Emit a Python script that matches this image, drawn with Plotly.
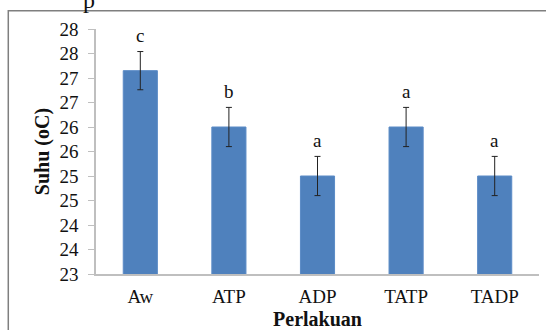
import plotly.graph_objects as go

categories = ["Aw", "ATP", "ADP", "TATP", "TADP"]
values = [27.15, 26.0, 25.0, 26.0, 25.0]
errors = [0.39, 0.4, 0.4, 0.4, 0.4]
letters = ["c", "b", "a", "a", "a"]
tick_vals = [23, 23.5, 24, 24.5, 25, 25.5, 26, 26.5, 27, 27.5, 28]
tick_text = ["23", "24", "24", "25", "25", "26", "26", "27", "27", "28", "28"]

serif = "Liberation Serif"

fig = go.Figure()
fig.add_trace(go.Bar(
    x=categories, y=values,
    marker=dict(color="#4F81BD", line=dict(color="#5B8BC6", width=1)),
    error_y=dict(type="data", array=errors, visible=True, color="#222222",
                 thickness=1, width=3),
))

for c, v, e, l in zip(categories, values, errors, letters):
    fig.add_annotation(x=c, y=v + e, text=l, showarrow=False, yshift=16,
                       font=dict(family=serif, size=19, color="#111"))

# clipped fragment of text above the chart
fig.add_annotation(xref="paper", yref="paper", x=-0.034, y=1.18, text="p",
                   showarrow=False, font=dict(family=serif, size=24, color="#111"))

fig.add_shape(type="rect", xref="paper", yref="paper", x0=-0.198, x1=1.2,
              y0=-0.4, y1=1.075, line=dict(color="#7f7f7f", width=1.5),
              fillcolor="rgba(0,0,0,0)", layer="below")

fig.update_layout(
    width=546, height=330,
    margin=dict(l=96, r=7, t=29, b=56, autoexpand=False),
    plot_bgcolor="white", paper_bgcolor="white",
    bargap=0.615,
    showlegend=False,
    xaxis=dict(showline=True, linecolor="#BFBFBF", linewidth=1.5, automargin=False,
               ticks="", ticklabelstandoff=4,
               tickfont=dict(family=serif, size=19, color="#111"),
               title=dict(text="<b>Perlakuan</b>", font=dict(family=serif, size=20, color="#111"),
                          standoff=10)),
    yaxis=dict(range=[23, 28], tickvals=tick_vals, ticktext=tick_text, automargin=False,
               showgrid=False, zeroline=False, showline=True, linecolor="#BFBFBF",
               linewidth=1.5, ticks="outside", ticklen=6, tickcolor="#BFBFBF",
               ticklabelstandoff=6,
               tickfont=dict(family=serif, size=19, color="#111"),
               title=dict(text="<b>Suhu (oC)</b>", font=dict(family=serif, size=20, color="#111"),
                          standoff=4)),
)

fig.write_html("out.html", config={"displayModeBar": False},
               post_script="document.body.style.margin='0px';")
